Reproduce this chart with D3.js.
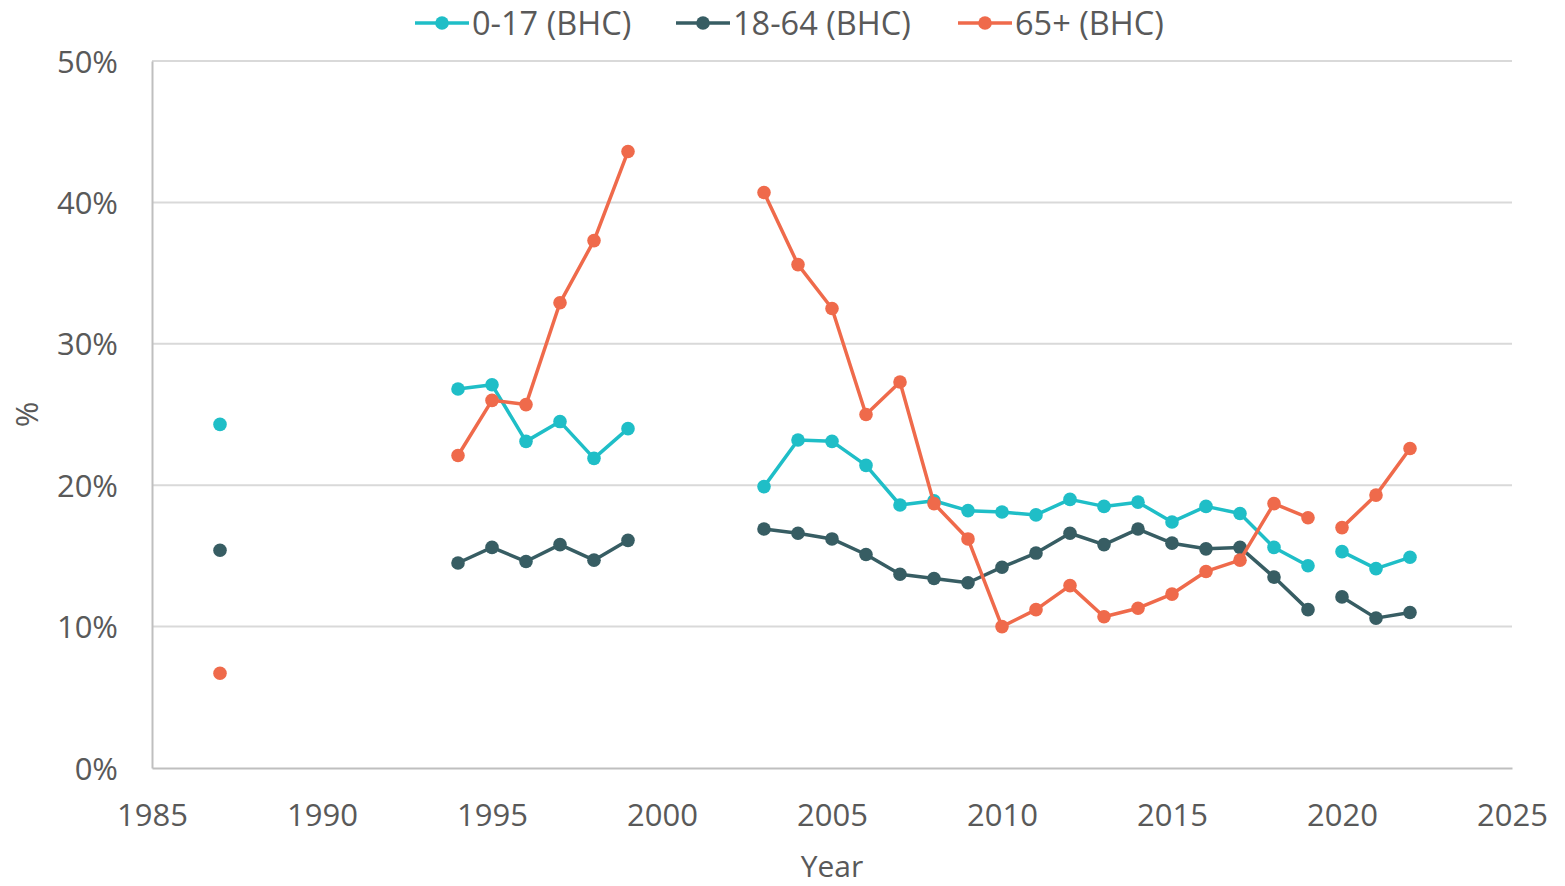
<!DOCTYPE html>
<html>
<head>
<meta charset="utf-8">
<script src="https://cdn.jsdelivr.net/npm/d3@7"></script>
<style>
  body { margin: 0; background: #fff; }
  text { font-family: "Open Sans", sans-serif; fill: #595959; }
</style>
</head>
<body>
<script>
// data (null = no survey that year)
var years = [1987, 1994, 1995, 1996, 1997, 1998, 1999, 2003, 2004, 2005, 2006, 2007, 2008, 2009, 2010,
    2011, 2012, 2013, 2014, 2015, 2016, 2017, 2018, 2019, 2020, 2021, 2022]
var children = [24.3, 26.8, 27.1, 23.1, 24.5, 21.9, 24.0, 19.9, 23.2, 23.1, 21.4, 18.6, 18.9, 18.2, 18.1,
    17.9, 19.0, 18.5, 18.8, 17.4, 18.5, 18.0, 15.6, 14.3, 15.3, 14.1, 14.9]
var workingAge = [15.4, 14.5, 15.6, 14.6, 15.8, 14.7, 16.1, 16.9, 16.6, 16.2, 15.1, 13.7, 13.4, 13.1, 14.2,
    15.2, 16.6, 15.8, 16.9, 15.9, 15.5, 15.6, 13.5, 11.2, 12.1, 10.6, 11.0]
var pensioners = [6.7, 22.1, 26.0, 25.7, 32.9, 37.3, 43.6, 40.7, 35.6, 32.5, 25.0, 27.3, 18.7, 16.2, 10.0,
    11.2, 12.9, 10.7, 11.3, 12.3, 13.9, 14.7, 18.7, 17.7, 17.0, 19.3, 22.6]
// line is broken after these years
var breakAfter = [1987, 1999, 2019]
var seriesNames = ['0-17 (BHC)', '18-64 (BHC)', '65+ (BHC)']
var seriesColors = ['#1fbec7', '#375d63', '#ef6a4b']
var xTicks = [1985, 1990, 1995, 2000, 2005, 2010, 2015, 2020, 2025]
var yTicks = [0, 10, 20, 30, 40, 50]

var W = 1565, H = 886
var margin = { left: 152, right: 53, top: 61, bottom: 118 }

var svg = d3.select('body').append('svg')
    .attr('width', W)
    .attr('height', H)

var x = d3.scaleLinear().domain([1985, 2025]).range([margin.left, W - margin.right])
var y = d3.scaleLinear().domain([0, 50]).range([H - margin.bottom, margin.top])

// gridlines
svg.append('g')
    .selectAll('line')
    .data(yTicks.slice(1))
    .enter().append('line')
    .attr('x1', x(1985)).attr('x2', x(2025))
    .attr('y1', function (d) { return y(d) })
    .attr('y2', function (d) { return y(d) })
    .attr('stroke', '#d9d9d9')
    .attr('stroke-width', 2)

// axes
var xAxis = svg.append('g')
    .attr('transform', 'translate(0,' + y(0) + ')')
    .call(d3.axisBottom(x).tickValues(xTicks).tickFormat(d3.format('d')).tickSize(0).tickPadding(36))
var yAxis = svg.append('g')
    .attr('transform', 'translate(' + x(1985) + ',0)')
    .call(d3.axisLeft(y).tickValues(yTicks).tickFormat(function (d) { return d + '%' }).tickSize(0).tickPadding(34))

;[xAxis, yAxis].forEach(function (a) {
    a.select('.domain').attr('stroke', '#bfbfbf').attr('stroke-width', 2)
    a.selectAll('text').attr('font-size', 31).attr('fill', '#595959')
        .style('font-family', '"Open Sans", sans-serif')
})
yAxis.selectAll('text').attr('dy', '0.36em')

// axis titles
svg.append('text')
    .attr('x', (x(1985) + x(2025)) / 2)
    .attr('y', 877)
    .attr('text-anchor', 'middle')
    .attr('font-size', 30)
    .text('Year')
svg.append('text')
    .attr('transform', 'translate(38,' + (y(25) + 0) + ') rotate(-90)')
    .attr('text-anchor', 'middle')
    .attr('font-size', 31)
    .text('%')

// split a series into connected pieces
var segments = function (vals) {
    var segs = [], cur = []
    for (var i = 0; i < years.length; i++) {
        if (vals[i] != null) cur.push([years[i], vals[i]])
        if (breakAfter.indexOf(years[i]) != -1) {
            if (cur.length) segs.push(cur)
            cur = []
        }
    }
    if (cur.length) segs.push(cur)
    return segs
}

var line = d3.line()
    .x(function (d) { return x(d[0]) })
    .y(function (d) { return y(d[1]) })

var allSeries = [children, workingAge, pensioners]
allSeries.forEach(function (vals, k) {
    var g = svg.append('g')
    g.selectAll('path')
        .data(segments(vals))
        .enter().append('path')
        .attr('d', line)
        .attr('fill', 'none')
        .attr('stroke', seriesColors[k])
        .attr('stroke-width', 3.5)
        .attr('stroke-linejoin', 'round')
    g.selectAll('circle')
        .data(years.map(function (yr, i) { return [yr, vals[i]] }).filter(function (d) { return d[1] != null }))
        .enter().append('circle')
        .attr('cx', function (d) { return x(d[0]) })
        .attr('cy', function (d) { return y(d[1]) })
        .attr('r', 6.8)
        .attr('fill', seriesColors[k])
})

// legend
var legendX = [415, 676, 958]
var legend = svg.append('g')
seriesNames.forEach(function (name, k) {
    var lg = legend.append('g').attr('transform', 'translate(' + legendX[k] + ',23)')
    lg.append('line')
        .attr('x1', 0).attr('x2', 54)
        .attr('stroke', seriesColors[k])
        .attr('stroke-width', 3.5)
    lg.append('circle')
        .attr('cx', 27).attr('r', 6.8)
        .attr('fill', seriesColors[k])
    lg.append('text')
        .attr('x', 57)
        .attr('dy', '0.36em')
        .attr('font-size', 32.5)
        .text(name)
})
</script>
</body>
</html>
